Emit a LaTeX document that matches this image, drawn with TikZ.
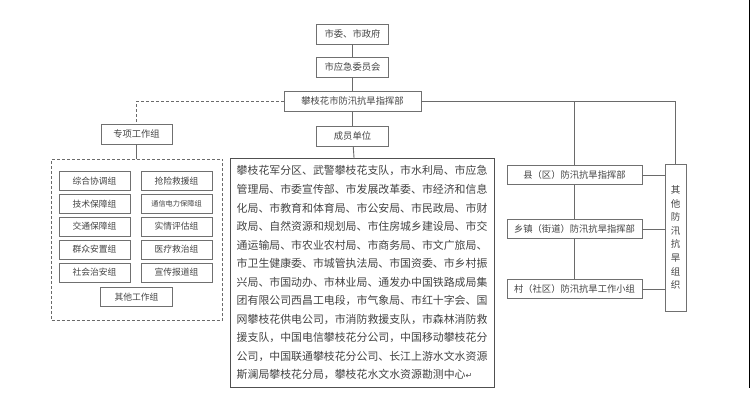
\documentclass[tikz,border=0pt]{standalone}
\usepackage{fontspec}
\newfontfamily\cjk{Noto Sans CJK SC}
\newfontfamily\dejavu{DejaVu Sans}
\definecolor{boxgray}{HTML}{707070}
\definecolor{linegray}{HTML}{6A6A6A}
\definecolor{txtgray}{HTML}{444444}
\definecolor{bigborder}{HTML}{505050}
\begin{document}
\begin{tikzpicture}[x=1pt,y=-1pt,
  box/.style={draw=boxgray, line width=0.9pt, fill=white, inner sep=0pt,
    font=\cjk\fontsize{9.3}{11}\selectfont, text=txtgray},
  sbox/.style={box, minimum width=71pt, minimum height=19pt, font=\cjk\fontsize{8.8}{10}\selectfont},
  rbox/.style={box, minimum width=135pt, minimum height=19pt},
  conn/.style={draw=linegray, line width=0.9pt},
  dconn/.style={draw=linegray, line width=0.9pt, dash pattern=on 3pt off 2pt}]
\useasboundingbox (0,0) rectangle (750,411);
\fill[white] (0,0) rectangle (750,411);

% central column
\node[box, minimum width=72pt, minimum height=20pt] (gov) at (352.5,34) {市委、市政府};
\node[box, minimum width=72pt, minimum height=20pt] (emer) at (352.5,67) {市应急委员会};
\node[box, minimum width=137pt, minimum height=19.5pt] (hq) at (352.5,101.5) {攀枝花市防汛抗旱指挥部};
\node[box, minimum width=72pt, minimum height=20pt] (mem) at (352.5,136) {成员单位};
\node[draw=bigborder, line width=1pt, fill=white, inner sep=0pt,
  minimum width=264pt, minimum height=229pt] (big) at (362,273.5) {};
\node[anchor=north west, inner sep=0pt, align=left, text=txtgray,
  font=\cjk\fontsize{10.9}{18.55}\selectfont] (memtext) at (236.5,165.5)
 {攀枝花军分区、武警攀枝花支队，市水利局、市应急\\
  管理局、市委宣传部、市发展改革委、市经济和信息\\
  化局、市教育和体育局、市公安局、市民政局、市财\\
  政局、自然资源和规划局、市住房城乡建设局、市交\\
  通运输局、市农业农村局、市商务局、市文广旅局、\\
  市卫生健康委、市城管执法局、市国资委、市乡村振\\
  兴局、市国动办、市林业局、通发办中国铁路成局集\\
  团有限公司西昌工电段，市气象局、市红十字会、国\\
  网攀枝花供电公司，市消防救援支队，市森林消防救\\
  援支队，中国电信攀枝花分公司，中国移动攀枝花分\\
  公司，中国联通攀枝花分公司、长江上游水文水资源\\
  斯澜局攀枝花分局，攀枝花水文水资源勘测中心{\dejavu\fontsize{8}{10}\selectfont ↵}};

\draw[conn] (gov) -- (emer);
\draw[conn] (emer) -- (hq);
\draw[conn] (hq) -- (mem);
\draw[conn] (mem) -- (big);

% left: special work groups
\node[box, minimum width=71pt, minimum height=20pt] (zx) at (136.5,134) {专项工作组};
\node[draw=linegray, line width=0.9pt, dash pattern=on 3pt off 2pt, inner sep=0pt,
  minimum width=171pt, minimum height=161pt] (grp) at (137,240) {};
\draw[dconn] (hq.west) -| (zx.north);
\draw[conn] (zx.south) -- (zx.south |- grp.north);

\node[sbox] (g1) at (94.5,181) {综合协调组};
\node[sbox] (g2) at (176.5,181) {抢险救援组};
\node[sbox] (g3) at (94.5,204) {技术保障组};
\node[sbox, font=\cjk\fontsize{7.2}{9}\selectfont] (g4) at (176.5,204) {通信电力保障组};
\node[sbox] (g5) at (94.5,226.5) {交通保障组};
\node[sbox] (g6) at (176.5,226.5) {实情评估组};
\node[sbox] (g7) at (94.5,249.5) {群众安置组};
\node[sbox] (g8) at (176.5,249.5) {医疗救治组};
\node[sbox] (g9) at (94.5,272.5) {社会治安组};
\node[sbox] (g10) at (176.5,272.5) {宣传报道组};
\node[sbox, minimum width=72pt] (g11) at (136.5,297) {其他工作组};

% right: lower-level commands
\node[rbox, minimum height=18.5pt] (county) at (574.5,175) {县（区）防汛抗旱指挥部};
\node[rbox] (town) at (574.5,229) {乡镇（街道）防汛抗旱指挥部};
\node[rbox] (village) at (574.5,289) {村（社区）防汛抗旱工作小组};
\node[box, minimum width=21pt, minimum height=147pt, align=center,
  font=\cjk\fontsize{9.5}{13.6}\selectfont] (other) at (675.5,237.5)
  {其\\他\\防\\汛\\抗\\旱\\组\\织};

\draw[conn] (hq.east) -| (other.north);
\draw[conn] (county.north |- hq.east) -- (county.north);
\draw[conn] (county) -- (town);
\draw[conn] (town) -- (village);
\draw[conn] (county.east) -- (county.east -| other.west);
\draw[conn] (town.east) -- (town.east -| other.west);
\draw[conn] (village.east) -- (village.east -| other.west);

% right edge line
\coordinate (edgeT) at (749,0);
\coordinate (edgeB) at (749,388);
\draw[black, line width=1pt] (edgeT) -- (edgeB);
\end{tikzpicture}
\end{document}
